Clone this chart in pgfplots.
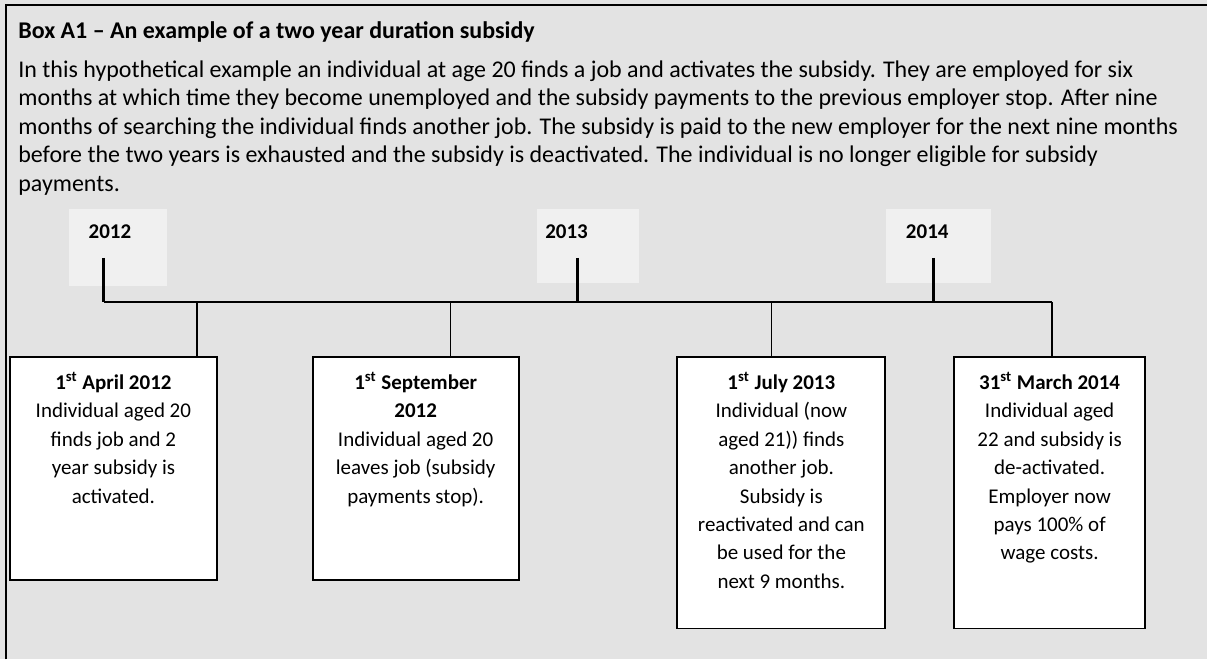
\documentclass[border=0pt]{standalone}
\usepackage{pgfplots}
\pgfplotsset{compat=1.18}
\usepackage{fontspec}
\setmainfont{Carlito}
\definecolor{boxbg}{RGB}{227,227,227}
\definecolor{yearbg}{RGB}{240,240,240}
\newcommand{\parafont}{\fontsize{12}{14.25}\selectfont}
\newcommand{\boxfont}{\fontsize{10.5}{14.25}\selectfont}
\newcommand{\fl}{\rule{0pt}{10pt}}% fixes the first baseline 10pt below the node top
\begin{document}
\begin{tikzpicture}
\begin{axis}[
  width=604pt, height=330pt, scale only axis,
  xmin=0, xmax=1208, ymin=0, ymax=660, y dir=reverse,
  hide axis, clip=false,
]
% background and outer frame
\addplot[draw=none, fill=boxbg] coordinates {(0,0) (1208,0) (1208,660) (0,660)} -- cycle;
\addplot[black, line width=1pt] coordinates {(6,660) (6,5) (1208,5)};

% year label patches
\addplot[draw=none, fill=yearbg] coordinates {(69,209) (167,209) (167,286) (69,286)} -- cycle;
\addplot[draw=none, fill=yearbg] coordinates {(537,209) (640,209) (640,283) (537,283)} -- cycle;
\addplot[draw=none, fill=yearbg] coordinates {(887,209) (992,209) (992,283) (887,283)} -- cycle;

% timeline
\addplot[black, line width=1pt] coordinates {(104,302) (1053,302)};
\addplot[black, line width=1.5pt] coordinates {(104,258) (104,302)};
\addplot[black, line width=1.5pt] coordinates {(578,258) (578,302)};
\addplot[black, line width=1.5pt] coordinates {(934,258) (934,302)};
\addplot[black, line width=0.75pt] coordinates {(197,302) (197,357)};
\addplot[black, line width=0.75pt] coordinates {(451,302) (451,357)};
\addplot[black, line width=0.75pt] coordinates {(772,302) (772,357)};
\addplot[black, line width=0.75pt] coordinates {(1053,302) (1053,357)};

% event boxes
\addplot[draw=black, fill=white, line width=1pt] coordinates {(10,357) (217,357) (217,580) (10,580)} -- cycle;
\addplot[draw=black, fill=white, line width=1pt] coordinates {(313,357) (519,357) (519,580) (313,580)} -- cycle;
\addplot[draw=black, fill=white, line width=1pt] coordinates {(678,357) (886,357) (886,629) (678,629)} -- cycle;
\addplot[draw=black, fill=white, line width=1pt] coordinates {(955,357) (1146,357) (1146,629) (955,629)} -- cycle;

% text
\node[anchor=base west, inner sep=0pt, font=\parafont\bfseries] at (axis cs:18,39)
  {Box A1 -- An example of a two year duration subsidy};
\node[anchor=north west, inner sep=0pt, align=left, font=\parafont] at (axis cs:18,57)
  {\fl In this hypothetical example an individual at age 20 finds a job and activates the subsidy. They are employed for six\\
   months at which time they become unemployed and the subsidy payments to the previous employer stop. After nine\\
   months of searching the individual finds another job. The subsidy is paid to the new employer for the next nine months\\
   before the two years is exhausted and the subsidy is deactivated. The individual is no longer eligible for subsidy\\
   payments.};

\node[anchor=base, font=\boxfont\bfseries, inner sep=0pt] at (axis cs:110,239) {2012};
\node[anchor=base, font=\boxfont\bfseries, inner sep=0pt] at (axis cs:567,239) {2013};
\node[anchor=base, font=\boxfont\bfseries, inner sep=0pt] at (axis cs:928,239) {2014};

\node[anchor=north, inner sep=0pt, align=center, font=\boxfont] at (axis cs:113.5,369)
  {\fl\textbf{1\textsuperscript{st} April 2012}\\Individual aged 20\\finds job and 2\\year subsidy is\\activated.};
\node[anchor=north, inner sep=0pt, align=center, font=\boxfont] at (axis cs:416,369)
  {\fl\textbf{1\textsuperscript{st} September}\\\textbf{2012}\\Individual aged 20\\leaves job (subsidy\\payments stop).};
\node[anchor=north, inner sep=0pt, align=center, font=\boxfont] at (axis cs:782,369)
  {\fl\textbf{1\textsuperscript{st} July 2013}\\Individual (now\\aged 21)) finds\\another job.\\Subsidy is\\reactivated and can\\be used for the\\next 9 months.};
\node[anchor=north, inner sep=0pt, align=center, font=\boxfont] at (axis cs:1050.5,369)
  {\fl\textbf{31\textsuperscript{st} March 2014}\\Individual aged\\22 and subsidy is\\de-activated.\\Employer now\\pays 100\% of\\wage costs.};
\end{axis}
\end{tikzpicture}
\end{document}
